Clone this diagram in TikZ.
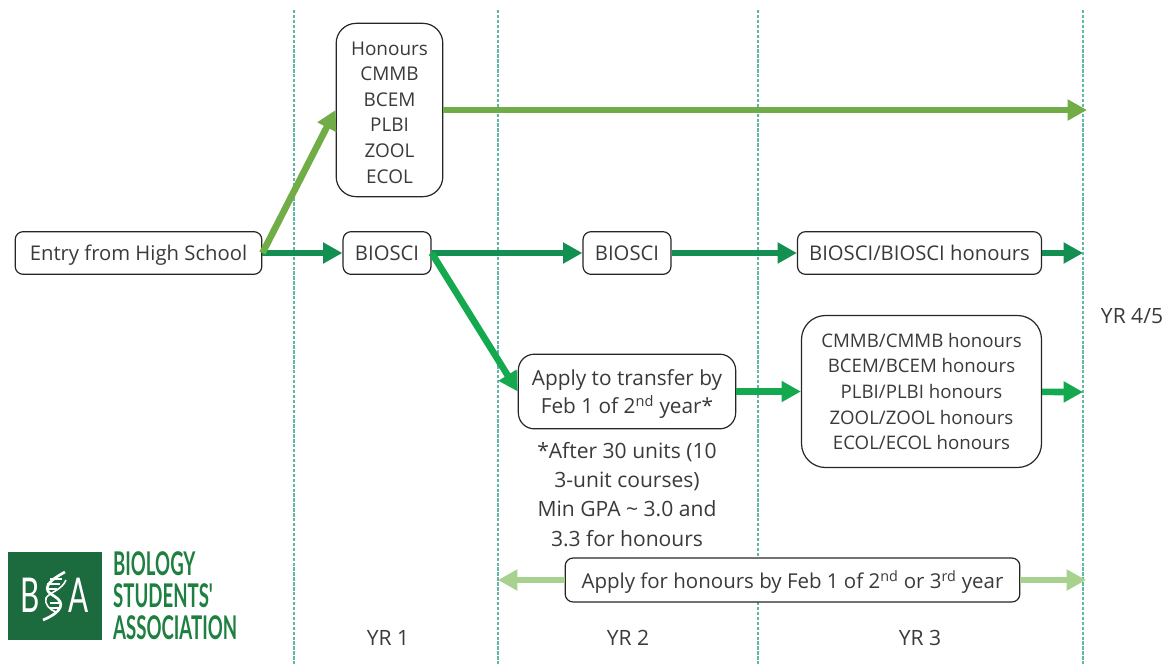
\documentclass[tikz,border=0pt]{standalone}
\usepackage{fontspec}
\setmainfont{Open Sans}
\newfontfamily\logofont{Lato}
\usetikzlibrary{arrows.meta,positioning}

\definecolor{GridTeal}{HTML}{62B8A6}
\definecolor{TextGrey}{HTML}{3A3A3A}
\definecolor{HonoursGreen}{HTML}{70AD47}
\definecolor{MainGreen}{HTML}{138F52}
\definecolor{TransferGreen}{HTML}{15A94F}
\definecolor{ApplyGreen}{HTML}{A9D18E}
\definecolor{LogoGreen}{HTML}{1B6B3E}
\definecolor{LogoText}{HTML}{1E8040}

\begin{document}
\begin{tikzpicture}[x=0.75pt, y=-0.75pt]
  \tikzset{stage/.style = {shape = rectangle, draw = black!85, fill = white, line width = 0.9pt, rounded corners = 6pt,
      align = center, text = TextGrey, inner sep = 0pt, text depth = 0pt, font = \fontsize{15.2}{19.2}\selectfont}}
  \tikzset{plain/.style = {align = center, text = TextGrey, inner sep = 0pt, font = \fontsize{15.8}{21.9}\selectfont}}
  \tikzset{route/.style = {line width = 5pt, -{Triangle[length = 14.5pt, width = 15pt]}}}
  \tikzset{yearline/.style = {GridTeal, line width = 0.9pt, dash pattern = on 2.5pt off 1.2pt}}

  \useasboundingbox (0,0) rectangle (1170,664);

  % year boundaries
  \foreach \x/\n in {294/A, 498/B, 758/C, 1083/D} {
    \coordinate (Top\n) at (\x,10);
    \coordinate (Bot\n) at (\x,664);
    \draw[yearline] (Top\n) -- (Bot\n);
  }

  \node[stage, minimum width = 185pt, minimum height = 32pt] (Entry) at (138.5,253) {Entry from High School};
  \node[stage, minimum width = 66pt, minimum height = 32pt, right = 60pt of Entry] (Bio1) {BIOSCI};
  \node[stage, minimum width = 80pt, minimum height = 130pt, rounded corners = 15pt,
    font = \fontsize{14.2}{19.2}\selectfont] (Hons) at (389.5,110)
    {\rule{0pt}{13.5pt}Honours\\CMMB\\BCEM\\PLBI\\ZOOL\\ECOL};
  \node[stage, minimum width = 66pt, minimum height = 32pt] (Bio2) at (627,253) {BIOSCI};
  \node[stage, minimum width = 183pt, minimum height = 32pt] (Bio3) at (919.5,253) {BIOSCI/BIOSCI honours};
  \node[stage, minimum width = 163pt, minimum height = 56pt, rounded corners = 12pt,
    font = \fontsize{15.6}{21}\selectfont] (Transfer) at (627,391.5)
    {Apply to transfer by\\Feb 1 of 2\textsuperscript{nd} year*};
  \node[stage, minimum width = 180pt, minimum height = 114pt, rounded corners = 18pt,
    font = \fontsize{14}{19.2}\selectfont] (Major) at (921.5,391.5)
    {CMMB/CMMB honours\\BCEM/BCEM honours\\PLBI/PLBI honours\\ZOOL/ZOOL honours\\ECOL/ECOL honours};
  \node[stage, minimum width = 341pt, minimum height = 33pt, font = \fontsize{15.35}{19.2}\selectfont] (Apply) at (792.5,580)
    {Apply for honours by Feb 1 of 2\textsuperscript{nd} or 3\textsuperscript{rd} year};
  \node[plain, below = 9.5pt of Transfer] (Note)
    {*After 30 units (10\\3-unit courses)\\Min GPA \textasciitilde{} 3.0 and\\3.3 for honours};

  \node[plain] (YrOne) at (388,638) {YR 1};
  \node[plain] (YrTwo) at (628,638) {YR 2};
  \node[plain] (YrThree) at (920,638) {YR 3};
  \node[plain] (YrFour) at (1132,316) {YR 4/5};

  \coordinate (HonsEnd) at (1087,110);
  \coordinate (Bio3End) at (1083,253);
  \coordinate (MajorEnd) at (1083,392);
  \coordinate (ApplyLeft) at (498,580);
  \coordinate (ApplyRight) at (1086,580);

  \draw[route, MainGreen] (Entry) -- (Bio1);
  \draw[route, HonoursGreen] (Entry.east) -- (Hons.west);
  \draw[route, HonoursGreen] (Hons.east) -- (HonsEnd);
  \draw[route, MainGreen] (Bio1) -- (Bio2);
  \draw[route, MainGreen] (Bio2) -- (Bio3);
  \draw[route, MainGreen] (Bio3) -- (Bio3End);
  \draw[route, TransferGreen] (Bio1.east) -- (Transfer.west);
  \draw[route, TransferGreen] (Transfer) -- (Major);
  \draw[route, TransferGreen] (Major) -- (MajorEnd);
  \draw[route, ApplyGreen] (Apply) -- (ApplyLeft);
  \draw[route, ApplyGreen] (Apply) -- (ApplyRight);

  % logo
  \fill[LogoGreen] (7.5,551.5) rectangle (101.5,639.5);
  \node[text = white, inner sep = 0pt, xscale = 0.62, font = \logofont\fontsize{36}{36}\selectfont] (LogoB) at (30.5,595) {B};
  \node[text = white, inner sep = 0pt, xscale = 0.62, font = \logofont\fontsize{36}{36}\selectfont] (LogoA) at (78.5,595) {A};
  \draw[white, line width = 2pt] (65,572) .. controls (46,582) and (42,590) .. (54,596) .. controls (66,603) and (62,612) .. (43,620);
  \draw[white, line width = 1.2pt] (66,580) .. controls (62,590) and (50,592) .. (46,598) .. controls (44,604) and (50,610) .. (56,612);
  \foreach \ya/\xa/\xb in {579/50/62, 584/47/60, 589/47/57, 603/50/61, 608/50/60} {
    \draw[white, line width = 0.8pt] (\xa,\ya) -- (\xb,\ya);
  }
  \node[anchor = west, align = left, inner sep = 0pt, text = LogoText, xscale = 0.57, transform shape,
    font = \logofont\bfseries\fontsize{24.5}{24}\selectfont] (LogoName) at (113,595.5) {BIOLOGY\\STUDENTS'\\ASSOCIATION};
\end{tikzpicture}
\end{document}
